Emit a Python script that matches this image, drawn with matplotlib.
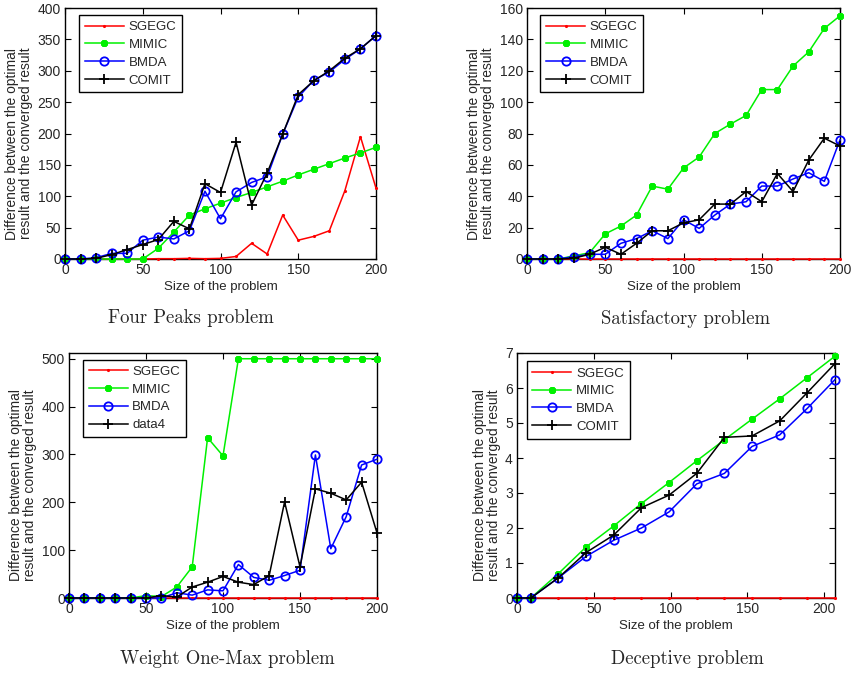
import matplotlib
matplotlib.use("Agg")
import matplotlib.pyplot as plt

# problem sizes (x axis) for the first three panels
sizes = [0, 10, 20, 30, 40, 50, 60, 70, 80, 90, 100,
         110, 120, 130, 140, 150, 160, 170, 180, 190, 200]

# Four Peaks problem
fp_sgegc = [0, 0, 0, 0, 0, 0, 0.5, 0.5, 1, 0.5, 1, 4, 25, 8, 70, 30, 36, 45, 109, 195, 113]
fp_mimic = [0, 0, 0, 0, 0, 0, 17, 43, 70, 80, 89, 98, 106, 115, 124, 134, 143, 152, 161, 169, 178]
fp_bmda = [0, 0, 2, 9, 9, 30, 35, 32, 45, 108, 64, 107, 122, 131, 199, 258, 285, 298, 318, 335, 356]
fp_comit = [0, 0, 1, 7, 15, 23, 31, 60, 48, 120, 106, 186, 86, 137, 199, 262, 284, 300, 320, 335, 356]

# Satisfactory problem
sat_sgegc = [0] * 21
sat_mimic = [0, 0, 0, 2, 4, 16, 21, 28, 46.5, 44.5, 58, 65, 80, 86, 91.5, 108, 108, 123, 132, 147, 155]
sat_bmda = [0, 0, 0, 1.5, 3, 3, 10, 13, 18, 13, 25, 19.5, 28, 35, 36.5, 46.5, 46.5, 51, 55, 49.5, 76]
sat_comit = [0, 0, 0, 0.5, 3, 7.5, 3, 10, 18, 18, 23, 25, 35, 35, 43, 36.5, 54.5, 43, 63, 77, 72]

# Weight One-Max problem
wom_sgegc = [0] * 21
wom_mimic = [0, 0, 0, 0, 0, 5, 3, 23, 65, 335, 297, 500, 500, 500, 500, 500, 500, 500, 500, 500, 500]
wom_bmda = [0, 0, 0, 0, 0, 0, 0, 11, 6, 17, 15, 70, 43, 37, 47, 58, 299, 103, 170, 278, 290]
wom_data4 = [0, 0, 0, 0, 0, 0, 5, 2, 23, 33, 45, 33, 28, 47, 201, 65, 228, 219, 205, 242, 136]

# Deceptive problem (different sizes)
dec_sizes = [0, 9, 27, 45, 63, 81, 99, 117, 135, 153, 171, 189, 207]
dec_sgegc = [0] * 13
dec_mimic = [0, 0, 0.70, 1.46, 2.06, 2.70, 3.30, 3.92, 4.52, 5.11, 5.69, 6.30, 6.91]
dec_bmda = [0, 0, 0.58, 1.19, 1.65, 2.00, 2.46, 3.26, 3.56, 4.33, 4.66, 5.42, 6.24]
dec_comit = [0, 0, 0.58, 1.30, 1.80, 2.58, 2.94, 3.56, 4.59, 4.63, 5.06, 5.87, 6.70]

names_std = ["SGEGC", "MIMIC", "BMDA", "COMIT"]
names_wom = ["SGEGC", "MIMIC", "BMDA", "data4"]

plt.rcParams['font.family'] = ['Liberation Sans', 'DejaVu Sans']
TXT = '#262626'

fig = plt.figure(figsize=(8.54, 6.76), dpi=100)
W, H = 854.0, 676.0


def px_axes(left, top, right, bottom):
    return fig.add_axes([left / W, 1 - bottom / H, (right - left) / W, (bottom - top) / H])


def draw_panel(ax, x, series, labels, xlim, ylim, yticks, leg_anchor):
    red, green, blue, black = series
    ax.plot(x, red, color='#ff0000', lw=1.1, marker='.', markersize=2.5, clip_on=False, zorder=3)
    ax.plot(x, green, color='#00f000', lw=1.1, marker=(8, 2, 0), markersize=5,
            markeredgewidth=2.0, clip_on=False, zorder=4)
    ax.plot(x, blue, color='#0000ff', lw=1.1, marker='o', markersize=6,
            markerfacecolor='none', markeredgewidth=1.3, clip_on=False, zorder=5)
    ax.plot(x, black, color='black', lw=1.1, marker='+', markersize=6.5,
            markeredgewidth=1.3, clip_on=False, zorder=6)

    ax.set_xlim(*xlim)
    ax.set_ylim(*ylim)
    ax.set_xticks([0, 50, 100, 150, 200])
    ax.set_yticks(yticks)
    ax.tick_params(direction='in', top=True, right=True, length=4, width=0.8,
                   labelsize=10, labelcolor=TXT, pad=3)
    for sp in ax.spines.values():
        sp.set_linewidth(1.0)

    ax.set_xlabel("Size of the problem", fontsize=9.5, color=TXT, labelpad=3)
    ax.set_ylabel("Difference between the optimal\nresult and the converged result",
                  fontsize=10, color=TXT, labelpad=3, linespacing=1.0)
    # the reference label sits a little below the axes centre
    ax.yaxis.label.set_y(0.46)

    leg = ax.legend(labels, loc='upper left', bbox_to_anchor=leg_anchor, borderaxespad=0,
                    fontsize=9.5, handlelength=2.95, handletextpad=0.35,
                    labelspacing=0.42, fancybox=False, framealpha=1, edgecolor='black',
                    borderpad=0.45)
    leg.get_frame().set_linewidth(1.0)
    for t in leg.get_texts():
        t.set_color(TXT)


# Four Peaks
ax1 = px_axes(65, 8, 376, 259)
draw_panel(ax1, sizes, [fp_sgegc, fp_mimic, fp_bmda, fp_comit], names_std,
           (0, 200), (0, 400), range(0, 401, 50), (0.045, 0.972))

# Satisfactory
ax2 = px_axes(527, 8, 840, 259)
draw_panel(ax2, sizes, [sat_sgegc, sat_mimic, sat_bmda, sat_comit], names_std,
           (0, 200), (0, 160), range(0, 161, 20), (0.042, 0.972))

# Weight One-Max
ax3 = px_axes(69, 353, 377, 598)
draw_panel(ax3, sizes, [wom_sgegc, wom_mimic, wom_bmda, wom_data4], names_wom,
           (0, 200), (0, 512), range(0, 501, 100), (0.045, 0.973))

# Deceptive
ax4 = px_axes(517, 353, 835, 598)
draw_panel(ax4, dec_sizes, [dec_sgegc, dec_mimic, dec_bmda, dec_comit], names_std,
           (0, 207), (0, 7), range(0, 8), (0.03, 0.966))

# captions under each panel
captions = [("Four Peaks problem", 191, 318), ("Satisfactory problem", 686, 319),
            ("Weight One-Max problem", 227, 659), ("Deceptive problem", 687, 659)]
for text, cx, cy in captions:
    fig.text(cx / W, 1 - cy / H, text, ha='center', va='center',
             fontsize=13.5, family='cmr10', color=TXT)

fig.savefig("out.png", dpi=100)
